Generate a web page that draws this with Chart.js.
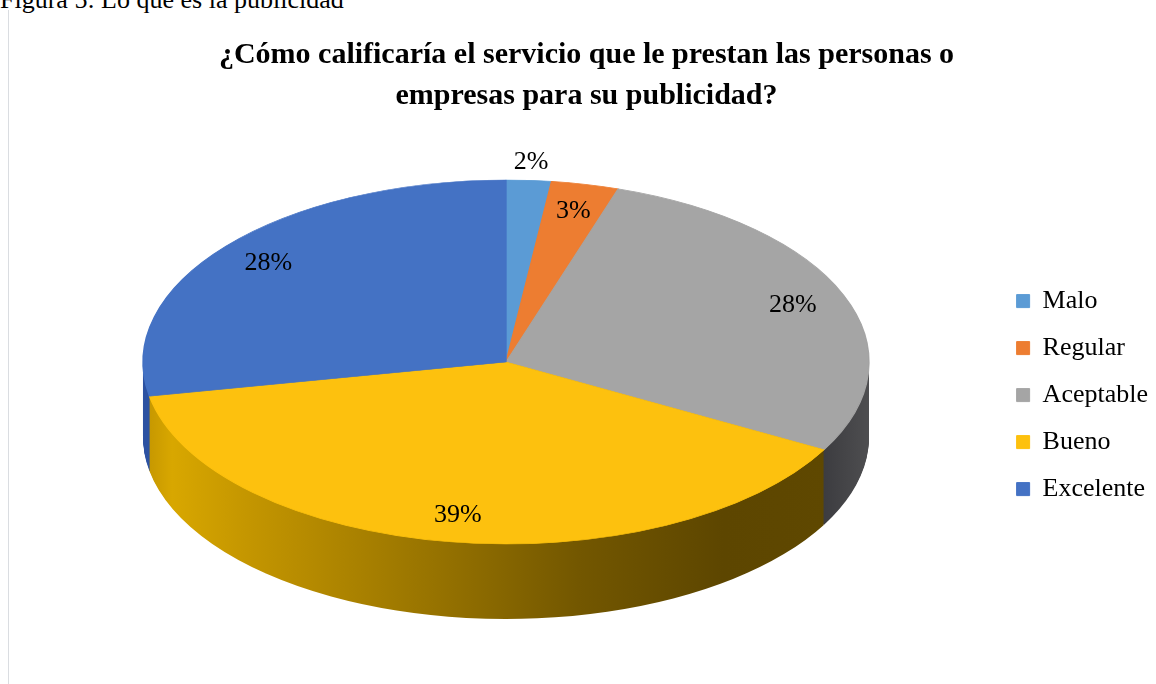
<!DOCTYPE html>
<html><head><meta charset="utf-8">
<script src="https://cdn.jsdelivr.net/npm/chart.js@4.4.1/dist/chart.umd.min.js"></script>
<style>
html,body{margin:0;padding:0;background:#fff;overflow:hidden;width:1156px;height:684px;}
#cap{position:absolute;left:0;top:-13px;font:26px/26px "Liberation Serif",serif;color:#000;white-space:nowrap;}
#frame{position:absolute;left:8px;top:10px;width:1px;height:674px;background:#dadde1;}
#wrap{position:absolute;left:9px;top:0;width:1155px;height:684px;}
</style></head><body>
<div id="cap">Figura 5: Lo que es la publicidad</div>
<div id="frame"></div>
<div id="wrap"><canvas id="c" width="1155" height="684" style="width:1155px;height:684px"></canvas></div>
<script>
// ---- data ----
const titleLines = ['¿Cómo calificaría el servicio que le prestan las personas o', 'empresas para su publicidad?'];
const categories = ['Malo', 'Regular', 'Aceptable', 'Bueno', 'Excelente'];
const percentages = [2, 3, 28, 39, 28];

// ---- styles ----
const topColors = ['#5B9BD5', '#ED7D31', '#A5A5A5', '#FDC10E', '#4472C4'];
const sideStops = [
  [[0, '#3F7DB8'], [1, '#3F7DB8']],
  [[0, '#B85A1C'], [1, '#B85A1C']],
  [[0, '#3a3a3e'], [0.93, '#3a3a3e'], [1, '#4e4e50']],
  [[0, '#C29400'], [0.04, '#D8A700'], [0.15, '#C39500'], [0.4, '#977300'], [0.6, '#735700'], [0.8, '#5D4600'], [0.95, '#5F4800'], [1, '#685100']],
  [[0, '#2C52A2'], [1, '#2C52A2']]
];
const CANVAS_LEFT = 9;
const ELL = { cx: 506 - CANVAS_LEFT, cy: 362, rx: 363, ry: 182, depth: 75 };
const SERIF = '"Liberation Serif", "Times New Roman", serif';

function ellipseTransform(ctx, a, d) {
  const sx = ELL.rx / a.outerRadius, sy = ELL.ry / a.outerRadius;
  ctx.translate(ELL.cx, ELL.cy + d);
  ctx.scale(sx, sy);
  ctx.translate(-a.x, -a.y);
}

const pie3d = {
  id: 'pie3d',
  beforeDatasetsDraw(chart) {
    const ctx = chart.ctx;
    const arcs = chart.getDatasetMeta(0).data;
    const props = arcs.map(a => a.getProps(['x', 'y', 'startAngle', 'endAngle', 'outerRadius'], true));
    const p0 = props[0];
    const sx = ELL.rx / p0.outerRadius;
    const nx = px => p0.x + (px - ELL.cx) / sx;
    const fills = sideStops.map(stops => {
      const g = ctx.createLinearGradient(nx(ELL.cx - ELL.rx), 0, nx(ELL.cx + ELL.rx), 0);
      stops.forEach(s => g.addColorStop(s[0], s[1]));
      return g;
    });
    // extruded side
    for (let d = ELL.depth; d >= 1; d--) {
      ctx.save();
      ellipseTransform(ctx, p0, d);
      props.forEach((p, i) => {
        ctx.fillStyle = fills[i];
        ctx.beginPath();
        ctx.moveTo(p.x, p.y);
        ctx.arc(p.x, p.y, p.outerRadius, p.startAngle, p.endAngle);
        ctx.closePath();
        ctx.fill();
      });
      ctx.restore();
    }
    // top face
    ctx.save();
    ellipseTransform(ctx, p0, 0);
    arcs.forEach(a => a.draw(ctx));
    ctx.restore();
    return false;
  },
  afterDraw(chart) {
    const ctx = chart.ctx;
    const arcs = chart.getDatasetMeta(0).data;
    ctx.save();
    ctx.fillStyle = '#000';
    ctx.font = '26px ' + SERIF;
    ctx.textAlign = 'center';
    ctx.textBaseline = 'middle';
    arcs.forEach((a, i) => {
      const p = a.getProps(['startAngle', 'endAngle'], true);
      const m = (p.startAngle + p.endAngle) / 2;
      const k = percentages[i] < 2.5 ? 1.1 : 0.85;
      const x = ELL.cx + k * ELL.rx * Math.cos(m);
      const y = ELL.cy + k * ELL.ry * Math.sin(m);
      ctx.fillText(percentages[i] + '%', x, y);
    });
    ctx.restore();
  }
};

new Chart(document.getElementById('c'), {
  type: 'pie',
  data: {
    labels: categories,
    datasets: [{
      data: percentages,
      backgroundColor: topColors,
      borderColor: topColors,
      borderWidth: 1
    }]
  },
  options: {
    responsive: false,
    animation: false,
    rotation: 0,
    layout: { padding: { left: 6, right: 6, top: 0, bottom: 11 } },
    plugins: {
      tooltip: { enabled: false },
      title: {
        display: true,
        text: titleLines,
        color: '#000',
        font: { family: SERIF, size: 30, weight: 'bold', lineHeight: 1.37 },
        padding: { top: 35, bottom: 0 }
      },
      legend: {
        position: 'right',
        fullSize: false,
        labels: {
          color: '#000',
          font: { family: SERIF, size: 26 },
          boxWidth: 13,
          boxHeight: 13,
          padding: 21
        }
      }
    }
  },
  plugins: [pie3d]
});
</script>
</body></html>
